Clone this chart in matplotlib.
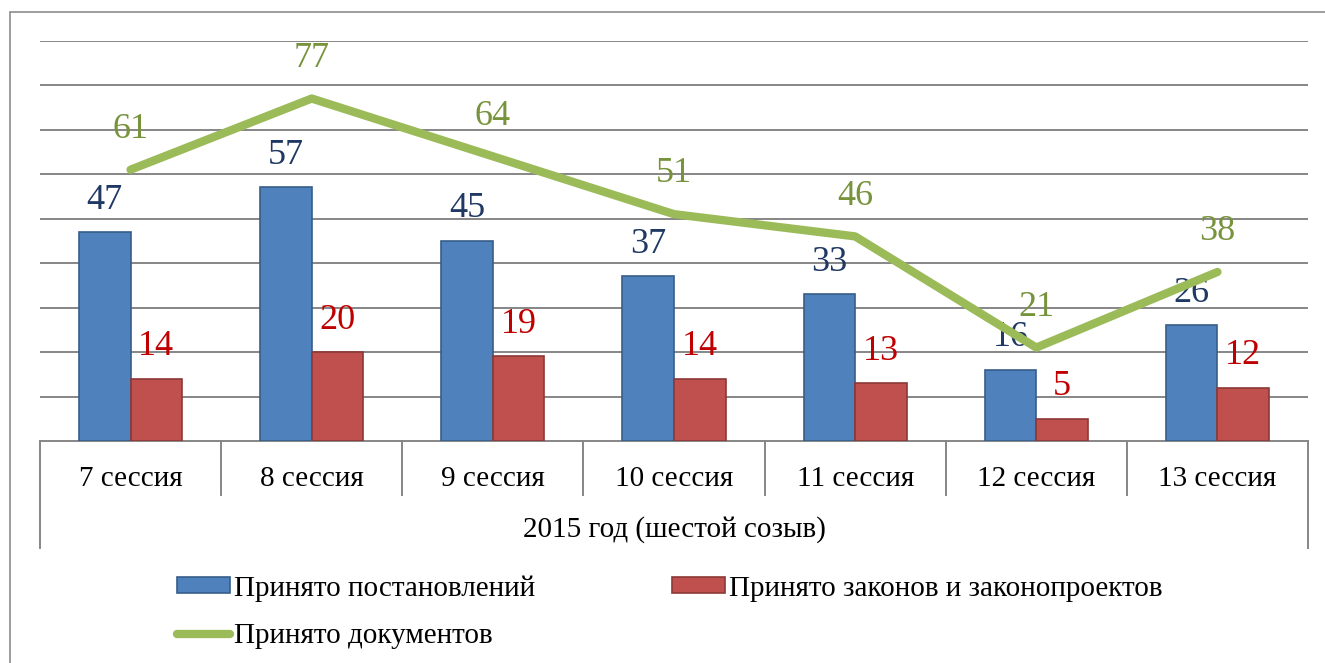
import numpy as np
import matplotlib
matplotlib.use("Agg")
import matplotlib.pyplot as plt
from matplotlib.patches import Rectangle, Patch
from matplotlib.lines import Line2D
import matplotlib.transforms as mtransforms

plt.rcParams['font.family'] = ['Liberation Serif', 'DejaVu Serif']

# data
sessions = ["7 сессия", "8 сессия", "9 сессия", "10 сессия",
            "11 сессия", "12 сессия", "13 сессия"]
group_label = "2015 год (шестой созыв)"
postanovleniy = [47, 57, 45, 37, 33, 16, 26]
zakonov = [14, 20, 19, 14, 13, 5, 12]
dokumentov = [61, 77, 64, 51, 46, 21, 38]
series_names = ["Принято постановлений", "Принято законов и законопроектов",
                "Принято документов"]

blue, blue_edge = "#4F81BD", "#385D8A"
red, red_edge = "#C0504D", "#8C3836"
green = "#9BBB59"
grid_col = "#868686"

W, H = 1325, 663
fig = plt.figure(figsize=(W / 100, H / 100), dpi=100)

# outer chart frame (only top and left edges visible)
fig.patches.append(Rectangle((10 / W, -0.1), 1.2, 1 - 12 / H + 0.1,
                             transform=fig.transFigure, fill=False,
                             edgecolor="#8C8C8C", linewidth=1.2))

left, right = 40 / W, 1308 / W
bottom, top = 1 - 441 / H, 1 - 40.7 / H
ax = fig.add_axes([left, bottom, right - left, top - bottom])

x = np.arange(len(sessions))
bw = 0.285
ax.bar(x - bw / 2, postanovleniy, bw, color=blue, edgecolor=blue_edge, linewidth=1.2, zorder=3)
ax.bar(x + bw / 2, zakonov, bw, color=red, edgecolor=red_edge, linewidth=1.2, zorder=3)
ax.plot(x, dokumentov, color=green, linewidth=6, solid_capstyle="round",
        solid_joinstyle="round", zorder=4)

ax.set_xlim(-0.5, len(sessions) - 0.5)
ax.set_ylim(0, 90)
ax.set_yticks(np.arange(10, 91, 10))
ax.yaxis.grid(True, color=grid_col, linewidth=1.4)
ax.set_axisbelow(True)
ax.tick_params(axis="y", left=False, labelleft=False)
ax.tick_params(axis="x", bottom=False, labelbottom=False)
for s in ["top", "right", "left"]:
    ax.spines[s].set_visible(False)
ax.spines["bottom"].set_color(grid_col)
ax.spines["bottom"].set_linewidth(1.4)

# value labels
for xi, v in zip(x, postanovleniy):
    ax.annotate(str(v), (xi - bw / 2, v), xytext=(0, 23), textcoords="offset points",
                ha="center", va="center", fontsize=26, color="#1F3864")
for xi, v in zip(x, zakonov):
    ax.annotate(str(v), (xi + bw / 2, v), xytext=(0, 23), textcoords="offset points",
                ha="center", va="center", fontsize=26, color="#C00000")
for xi, v in zip(x, dokumentov):
    ax.annotate(str(v), (xi, v), xytext=(0, 29), textcoords="offset points",
                ha="center", va="center", fontsize=26, color="#77933C")

# two-level category axis
trans = mtransforms.blended_transform_factory(ax.transData, ax.transAxes)
axh = 441 - 40.7
y_inner = -(495 - 441) / axh
y_outer = -(548 - 441) / axh
for b in np.arange(-0.5, len(sessions), 1.0):
    y_end = y_outer if b in (-0.5, len(sessions) - 0.5) else y_inner
    ax.plot([b, b], [0, y_end], color=grid_col, linewidth=1.4,
            transform=trans, clip_on=False)
for xi, name in zip(x, sessions):
    ax.text(xi, -(479 - 441) / axh, name, transform=trans, ha="center",
            va="center", fontsize=21)
ax.text((len(sessions) - 1) / 2, -(530 - 441) / axh, group_label, transform=trans,
        ha="center", va="center", fontsize=21)

# legend
handles = [Patch(facecolor=blue, edgecolor=blue_edge, linewidth=1.2),
           Line2D([], [], color=green, linewidth=6, solid_capstyle="round"),
           Patch(facecolor=red, edgecolor=red_edge, linewidth=1.2)]
labels = [series_names[0], series_names[2], series_names[1]]
fig.legend(handles, labels, ncol=2, loc="upper left",
           bbox_to_anchor=(177 / W, 1 - 575 / H), frameon=False, fontsize=21,
           handlelength=1.8, handleheight=0.5, handletextpad=0.15,
           columnspacing=4.7, labelspacing=0.75, borderpad=0, borderaxespad=0)

fig.savefig("out.png", dpi=100)
